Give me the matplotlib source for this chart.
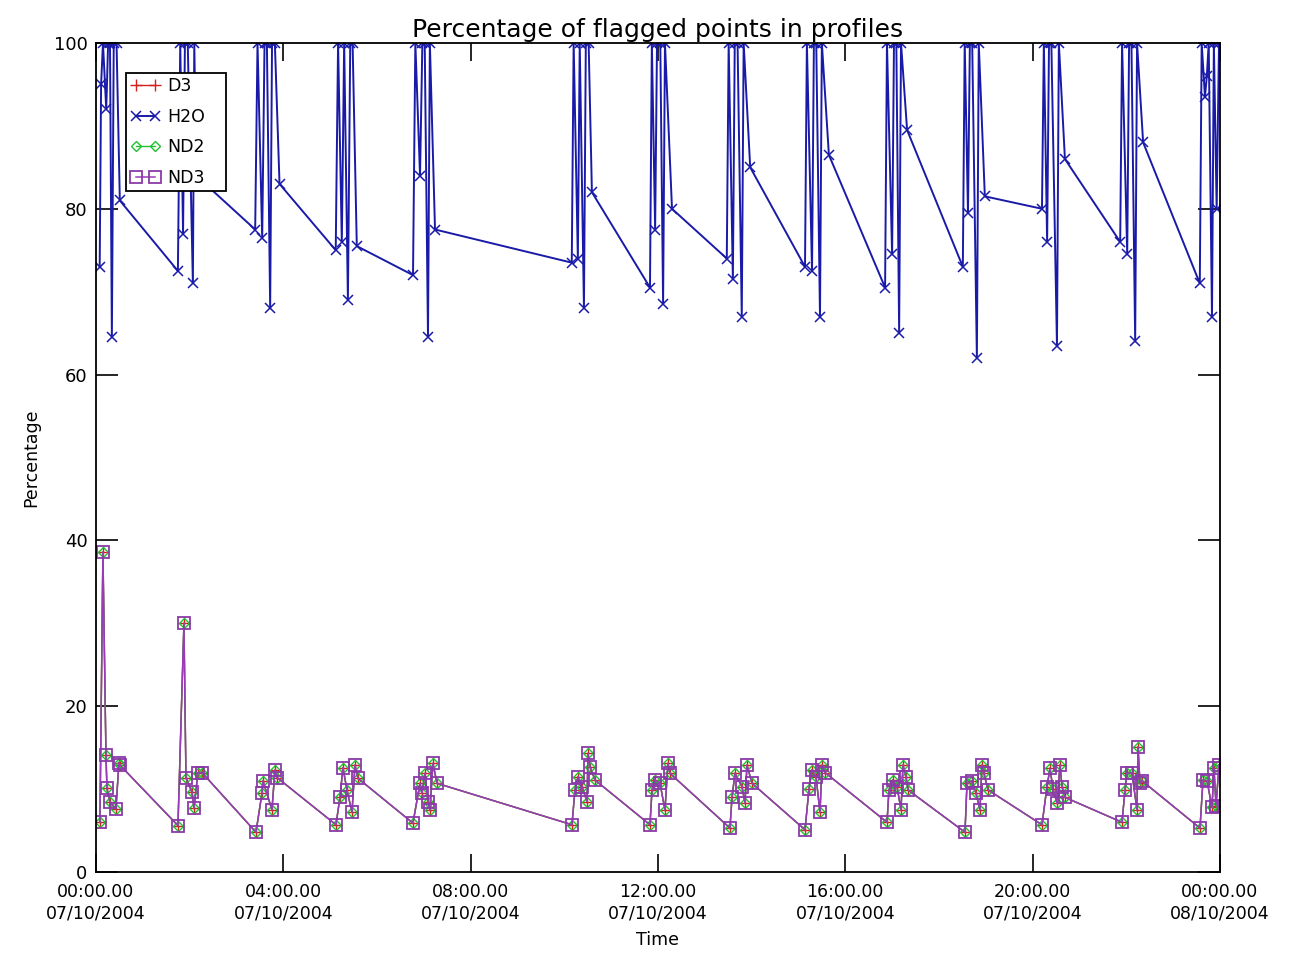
import matplotlib
matplotlib.use("Agg")
import matplotlib.pyplot as plt

# ---------------- data (time in hours since 00:00 07/10/2004) ----------------
h2o_time = [0.08, 0.11, 0.15, 0.22, 0.26, 0.30, 0.34, 0.38, 0.44, 0.51,
            1.75, 1.80, 1.86, 1.90, 1.96, 2.07, 2.10, 2.14,
            3.40, 3.45, 3.55, 3.60, 3.65, 3.72, 3.76, 3.82, 3.92,
            5.12, 5.17, 5.25, 5.30, 5.38, 5.43, 5.48, 5.57,
            6.77, 6.82, 6.92, 6.97, 7.02, 7.09, 7.13, 7.24,
            10.16, 10.20, 10.29, 10.33, 10.42, 10.46, 10.52, 10.59,
            11.83, 11.87, 11.94, 11.98, 12.05, 12.11, 12.15, 12.30,
            13.47, 13.51, 13.60, 13.64, 13.70, 13.79, 13.83, 13.97,
            15.14, 15.18, 15.29, 15.33, 15.38, 15.46, 15.50, 15.65,
            16.85, 16.89, 17.00, 17.04, 17.09, 17.15, 17.19, 17.32,
            18.51, 18.55, 18.62, 18.66, 18.71, 18.81, 18.85, 18.98,
            20.20, 20.24, 20.31, 20.35, 20.40, 20.52, 20.56, 20.69,
            21.87, 21.91, 22.02, 22.06, 22.11, 22.19, 22.23, 22.36,
            23.57, 23.61, 23.68, 23.72, 23.76, 23.83, 23.87, 23.93, 23.98]
h2o_vals = [73, 95, 100, 92, 100, 100, 64.5, 100, 100, 81,
            72.5, 100, 77, 100, 100, 71, 100, 84,
            77.5, 100, 76.5, 100, 100, 68, 100, 100, 83,
            75, 100, 76, 100, 69, 100, 100, 75.5,
            72, 100, 84, 100, 100, 64.5, 100, 77.5,
            73.5, 100, 74, 100, 68, 100, 100, 82,
            70.5, 100, 77.5, 100, 100, 68.5, 100, 80,
            74, 100, 71.5, 100, 100, 67, 100, 85,
            73, 100, 72.5, 100, 100, 67, 100, 86.5,
            70.5, 100, 74.5, 100, 100, 65, 100, 89.5,
            73, 100, 79.5, 100, 100, 62, 100, 81.5,
            80, 100, 76, 100, 100, 63.5, 100, 86,
            76, 100, 74.5, 100, 100, 64, 100, 88,
            71, 100, 93.5, 96, 100, 67, 100, 80, 100]

low_time = [0.085, 0.149, 0.214, 0.235, 0.299, 0.427, 0.491, 0.512,
            1.751, 1.879, 1.922, 2.050, 2.093, 2.178, 2.264,
            3.417, 3.545, 3.566, 3.758, 3.822, 3.865,
            5.125, 5.210, 5.274, 5.360, 5.467, 5.531, 5.595,
            6.769, 6.919, 6.961, 7.025, 7.090, 7.132, 7.196, 7.282,
            10.164, 10.228, 10.293, 10.378, 10.485, 10.506, 10.549, 10.655,
            11.830, 11.873, 11.937, 12.044, 12.150, 12.214, 12.257,
            13.538, 13.581, 13.645, 13.794, 13.859, 13.901, 14.008,
            15.140, 15.225, 15.289, 15.375, 15.460, 15.503, 15.567,
            16.891, 16.933, 17.019, 17.104, 17.190, 17.232, 17.296, 17.339,
            18.556, 18.599, 18.706, 18.791, 18.876, 18.919, 18.962, 19.048,
            20.200, 20.307, 20.371, 20.436, 20.521, 20.585, 20.628, 20.692,
            21.909, 21.973, 22.016, 22.122, 22.229, 22.250, 22.293, 22.336,
            23.574, 23.638, 23.724, 23.830, 23.873, 23.916, 23.980]
no3_vals = [6.0, 38.6, 14.1, 10.1, 8.4, 7.6, 13.2, 12.9,
            5.6, 30.0, 11.4, 9.6, 7.7, 12.0, 12.0,
            4.8, 9.5, 11.0, 7.5, 12.3, 11.4,
            5.7, 9.0, 12.6, 9.9, 7.2, 12.9, 11.3,
            5.9, 10.7, 9.5, 11.9, 8.4, 7.5, 13.1, 10.7,
            5.7, 9.9, 11.5, 10.3, 8.5, 14.3, 12.7, 11.1,
            5.7, 9.9, 11.1, 10.7, 7.5, 13.1, 11.9,
            5.3, 9.0, 11.9, 10.3, 8.3, 12.9, 10.7,
            5.1, 10.0, 12.3, 11.5, 7.2, 12.9, 12.0,
            6.0, 9.9, 11.1, 10.3, 7.5, 12.9, 11.5, 9.9,
            4.8, 10.7, 11.0, 9.5, 7.5, 12.9, 11.9, 9.9,
            5.7, 10.3, 12.5, 10.0, 8.3, 12.9, 10.3, 9.0,
            6.0, 9.9, 12.0, 11.9, 7.5, 15.1, 10.7, 11.0,
            5.3, 11.1, 11.0, 7.8, 12.5, 8.0, 12.9]
o3_vals = list(no3_vals)
no2_vals = list(no3_vals)

tick_hours = [0, 4, 8, 12, 16, 20, 24]
tick_labels = ["00:00.00\n07/10/2004", "04:00.00\n07/10/2004", "08:00.00\n07/10/2004",
               "12:00.00\n07/10/2004", "16:00.00\n07/10/2004", "20:00.00\n07/10/2004",
               "00:00.00\n08/10/2004"]
y_ticks = [0, 20, 40, 60, 80, 100]

# ---------------- figure ----------------
plt.rcParams['font.family'] = ['DejaVu Sans']
fig = plt.figure(figsize=(12.93, 9.57), dpi=100)
ax = fig.add_axes([0.0742, 0.0888, 0.8693, 0.8663])

c_o3 = '#d42020'
c_h2o = '#1a1aa8'
c_no2 = '#20c030'
c_no3 = '#9a3ab8'

ax.plot(low_time, o3_vals, color=c_o3, lw=1.0, marker='+', ms=8, mew=1.0, label='D3')
ax.plot(h2o_time, h2o_vals, color=c_h2o, lw=1.4, marker='x', ms=7.5, mew=1.1, label='H2O')
ax.plot(low_time, no2_vals, color=c_no2, lw=1.0, marker='D', ms=5, mew=1.0,
        mfc='none', label='ND2')
ax.plot(low_time, no3_vals, color=c_no3, lw=1.1, marker='s', ms=8, mew=1.3,
        mfc='none', mec='#8a3aa8', label='ND3')

ax.set_xlim(0, 24)
ax.set_ylim(0, 100)
ax.set_xticks(tick_hours)
ax.set_xticklabels(tick_labels, fontsize=12.5, linespacing=1.25)
ax.set_yticks(y_ticks)
ax.set_yticklabels([str(v) for v in y_ticks], fontsize=13)
ax.tick_params(axis='x', direction='in', length=13, width=1.2, top=True, pad=8)
ax.tick_params(axis='y', direction='in', length=16, width=1.2, right=True, pad=6)
for s in ax.spines.values():
    s.set_linewidth(1.3)

ax.set_title('Percentage of flagged points in profiles', fontsize=18, pad=4)
ax.set_xlabel('Time', fontsize=12.5, labelpad=6)
ax.set_ylabel('Percentage', fontsize=12.5, labelpad=10)

leg = ax.legend(loc='upper left', bbox_to_anchor=(0.0267, 0.964 - 0.1446, 0.089, 0.1446),
                mode='expand', numpoints=2,
                handlelength=1.75, handletextpad=0.35, borderpad=0.25,
                labelspacing=0.72, borderaxespad=0.0, fontsize=12.5,
                fancybox=False, framealpha=1.0, edgecolor='black')
leg.get_frame().set_linewidth(1.3)

fig.savefig('out.png', dpi=100)
